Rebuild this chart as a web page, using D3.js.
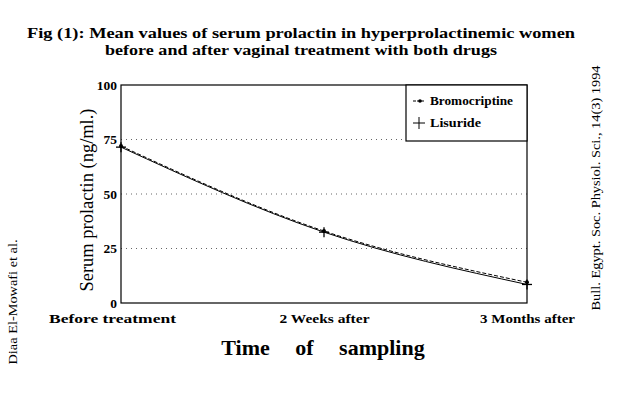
<!DOCTYPE html>
<html>
<head>
<meta charset="utf-8">
<script src="https://cdn.jsdelivr.net/npm/d3@7"></script>
<style>
  body { margin: 0; background: #fff; }
  text { font-family: "Liberation Serif", "DejaVu Serif", serif; fill: #000; }
</style>
</head>
<body>
<script>
const w = 631;
const h = 398;

// * DATA
const times = ["Before treatment", "2 Weeks after", "3 Months after"];
const bromocriptine = [72, 33, 9.5];
const lisuride = [71.5, 32.5, 8.5];
const yTicks = [0, 25, 50, 75, 100];
const gridTicks = [25, 50, 75];

const margin = { left: 121, right: 104, top: 85, bottom: 95 };

const svg = d3.select("body").append("svg").attr("width", w).attr("height", h);

// * SCALES
const xScale = d3.scalePoint().domain(times).range([margin.left, w - margin.right]);
const yScale = d3.scaleLinear().domain([0, 100]).range([h - margin.bottom, margin.top]);

// * TITLE
svg.append("text")
	.attr("x", 301).attr("y", 38)
	.attr("text-anchor", "middle")
	.attr("font-weight", "bold").attr("font-size", 15)
	.attr("textLength", 548).attr("lengthAdjust", "spacingAndGlyphs")
	.text("Fig (1): Mean values of serum prolactin in hyperprolactinemic women");
svg.append("text")
	.attr("x", 301).attr("y", 55)
	.attr("text-anchor", "middle")
	.attr("font-weight", "bold").attr("font-size", 15)
	.attr("textLength", 392).attr("lengthAdjust", "spacingAndGlyphs")
	.text("before and after vaginal treatment with both drugs");

// * GRID (dotted)
svg.append("g").selectAll("line")
	.data(gridTicks).enter().append("line")
	.attr("x1", xScale.range()[0]).attr("x2", xScale.range()[1])
	.attr("y1", (d) => yScale(d)).attr("y2", (d) => yScale(d))
	.attr("stroke", "#666").attr("stroke-width", 1)
	.attr("stroke-dasharray", "1,4");

// * FRAME
svg.append("rect")
	.attr("x", xScale.range()[0]).attr("y", yScale(100))
	.attr("width", xScale.range()[1] - xScale.range()[0])
	.attr("height", yScale(0) - yScale(100))
	.attr("fill", "none").attr("stroke", "#000").attr("stroke-width", 1.2);

// * AXES
const yAxis = d3.axisLeft(yScale).tickValues(yTicks).tickSize(0).tickPadding(4);
const gy = svg.append("g")
	.attr("transform", "translate(" + margin.left + ",0)")
	.call(yAxis);
gy.select(".domain").remove();
gy.selectAll("text")
	.attr("font-family", "Liberation Serif, serif")
	.attr("font-weight", "bold").attr("font-size", 13.5);

const xLabelWidths = [127, 90, 95];
const xAxis = d3.axisBottom(xScale).tickSize(0).tickPadding(10);
const gx = svg.append("g")
	.attr("transform", "translate(0," + (h - margin.bottom) + ")")
	.call(xAxis);
gx.select(".domain").remove();
gx.selectAll("text")
	.attr("font-family", "Liberation Serif, serif")
	.attr("font-weight", "bold").attr("font-size", 13.5)
	.attr("textLength", (d, i) => xLabelWidths[i])
	.attr("lengthAdjust", "spacingAndGlyphs")
	.attr("dx", (d, i) => (i === 0 ? -9 : 0));

// * AXIS TITLES
svg.append("text")
	.attr("transform", "translate(93,200) rotate(-90)")
	.attr("text-anchor", "middle").attr("font-size", 18)
	.attr("textLength", 183).attr("lengthAdjust", "spacingAndGlyphs")
	.text("Serum prolactin (ng/ml.)");
svg.append("text")
	.attr("x", 323).attr("y", 355)
	.attr("text-anchor", "middle")
	.attr("font-weight", "bold").attr("font-size", 22)
	.attr("word-spacing", 20)
	.text("Time of sampling");

// * SIDE NOTES
svg.append("text")
	.attr("transform", "translate(17,302) rotate(-90)")
	.attr("text-anchor", "middle").attr("font-size", 12.5)
	.attr("textLength", 125).attr("lengthAdjust", "spacingAndGlyphs")
	.text("Diaa El-Mowafi et al.");
svg.append("text")
	.attr("transform", "translate(600,188) rotate(-90)")
	.attr("text-anchor", "middle").attr("font-size", 12.5)
	.attr("textLength", 245).attr("lengthAdjust", "spacingAndGlyphs")
	.text("Bull. Egypt. Soc. Physiol. Sci., 14(3) 1994");

// * LINES
const line = d3.line()
	.x((d, i) => xScale(times[i]))
	.y((d) => yScale(d))
	.curve(d3.curveNatural);

svg.append("path").datum(lisuride)
	.attr("d", line).attr("fill", "none")
	.attr("stroke", "#000").attr("stroke-width", 1);
svg.append("path").datum(bromocriptine)
	.attr("d", line).attr("fill", "none")
	.attr("stroke", "#000").attr("stroke-width", 1)
	.attr("stroke-dasharray", "4,2");

// * MARKERS
svg.selectAll(".dot").data(bromocriptine).enter().append("circle")
	.attr("class", "dot")
	.attr("cx", (d, i) => xScale(times[i]))
	.attr("cy", (d) => yScale(d))
	.attr("r", 2).attr("fill", "#000");
const plus = svg.selectAll(".plus").data(lisuride).enter().append("g")
	.attr("class", "plus")
	.attr("transform", (d, i) => "translate(" + xScale(times[i]) + "," + yScale(d) + ")");
plus.append("line").attr("x1", -5).attr("x2", 5).attr("stroke", "#000").attr("stroke-width", 1.3);
plus.append("line").attr("y1", -5).attr("y2", 5).attr("stroke", "#000").attr("stroke-width", 1.3);

// * LEGEND
const legend = svg.append("g");
legend.append("rect")
	.attr("x", 406).attr("y", yScale(100))
	.attr("width", xScale.range()[1] - 406).attr("height", 56)
	.attr("fill", "#fff").attr("stroke", "#000").attr("stroke-width", 1.2);
const legendData = ["Bromocriptine", "Lisuride"];
const items = legend.selectAll(".legend-item").data(legendData).enter().append("g")
	.attr("class", "legend-item")
	.attr("transform", (d, i) => "translate(413," + (104 + i * 22) + ")");
items.append("line")
	.attr("x1", 0).attr("x2", 12).attr("y1", -3).attr("y2", -3)
	.attr("stroke", "#000").attr("stroke-width", 1)
	.attr("stroke-dasharray", (d, i) => (i === 0 ? "3,1" : null));
items.filter((d, i) => i === 0).append("circle")
	.attr("cx", 7).attr("cy", -3).attr("r", 1.8).attr("fill", "#000");
items.filter((d, i) => i === 1).append("line")
	.attr("x1", 6).attr("x2", 6).attr("y1", -9).attr("y2", 3)
	.attr("stroke", "#000").attr("stroke-width", 1);
items.append("text")
	.attr("x", 17).attr("y", 1)
	.attr("font-weight", "bold").attr("font-size", 13)
	.attr("textLength", (d, i) => (i === 0 ? 83 : 51))
	.attr("lengthAdjust", "spacingAndGlyphs")
	.text((d) => d);
</script>
</body>
</html>
